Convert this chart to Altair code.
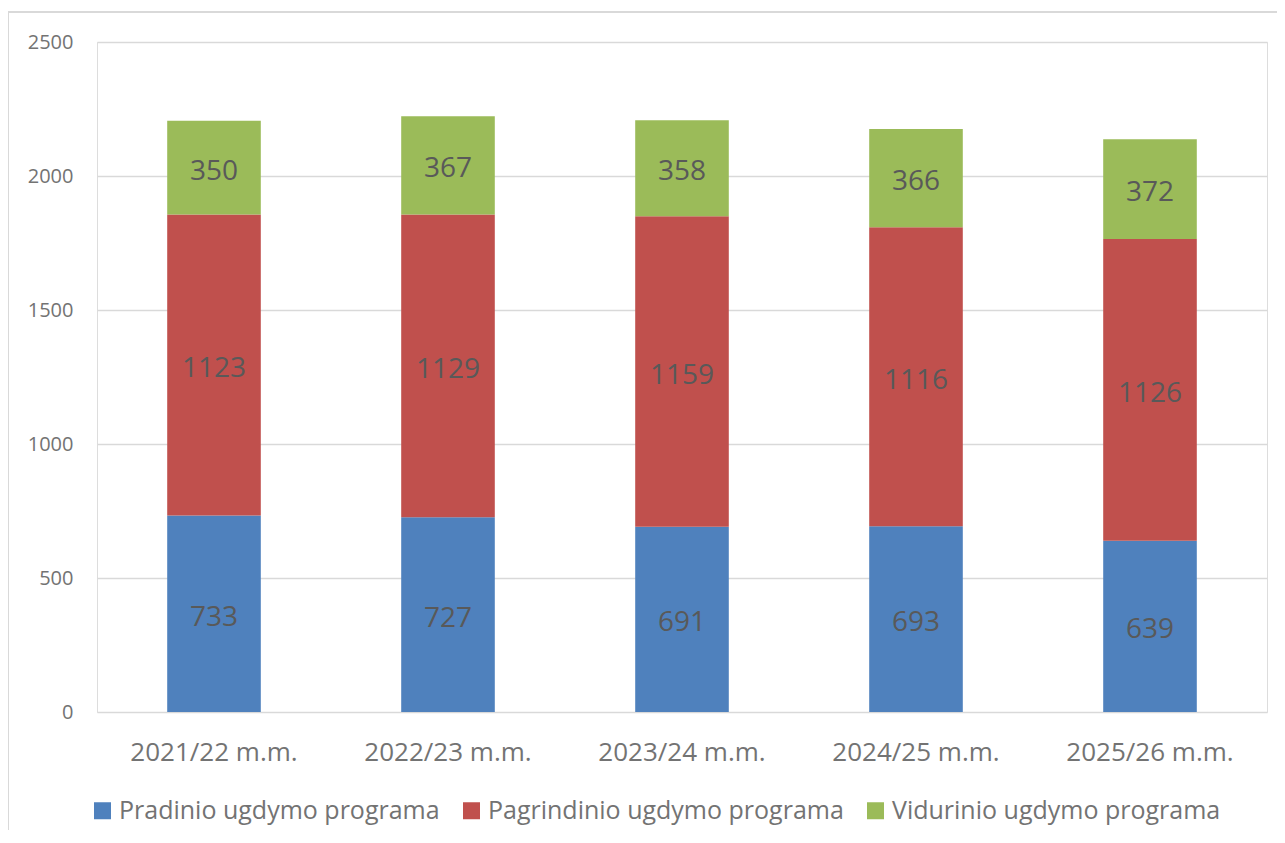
import altair as alt
import pandas as pd

years = ["2021/22 m.m.", "2022/23 m.m.", "2023/24 m.m.", "2024/25 m.m.", "2025/26 m.m."]
series = ["Pradinio ugdymo programa", "Pagrindinio ugdymo programa", "Vidurinio ugdymo programa"]
pradinio = [733, 727, 691, 693, 639]
pagrindinio = [1123, 1129, 1159, 1116, 1126]
vidurinio = [350, 367, 358, 366, 372]
colors = ["#4F81BD", "#C0504D", "#9BBB59"]

rows = []
for i, y in enumerate(years):
    for k, (s, vals) in enumerate(zip(series, [pradinio, pagrindinio, vidurinio])):
        rows.append({"year": y, "series": s, "value": vals[i], "order": k})
df = pd.DataFrame(rows)

FONT = "Open Sans"
GRAY = "#595959"
AXGRAY = "#737373"
W, H = 1170, 670

base = alt.Chart(df).transform_stack(
    stack="value", groupby=["year"], as_=["y0", "y1"],
    sort=[alt.SortField("order", order="ascending")]
).transform_calculate(mid="(datum.y0 + datum.y1) / 2")

x = alt.X("year:N", sort=years,
          scale=alt.Scale(paddingInner=0.6, paddingOuter=0.3),
          axis=alt.Axis(title=None, labelAngle=0, domain=False, ticks=False,
                        labelPadding=27, labelFontSize=26, labelColor=AXGRAY,
                        labelFont=FONT))

bars = base.mark_bar().encode(
    x=x,
    y=alt.Y("y0:Q", scale=alt.Scale(domain=[0, 2500], nice=False),
            axis=alt.Axis(title=None, values=[0, 500, 1000, 1500, 2000, 2500],
                          format="d", domain=False, ticks=False, labelPadding=24,
                          labelFontSize=20, labelColor=AXGRAY, labelFont=FONT,
                          gridColor="#D9D9D9", gridWidth=1.5)),
    y2="y1:Q",
    color=alt.Color("series:N", sort=series,
                    scale=alt.Scale(domain=series, range=colors),
                    legend=alt.Legend(title=None, orient="none", direction="horizontal",
                                      legendX=-7, legendY=756,
                                      symbolType="square", symbolSize=289,
                                      symbolStrokeWidth=0, labelFontSize=25,
                                      labelColor=AXGRAY, labelFont=FONT,
                                      columnPadding=19, labelOffset=4,
                                      labelLimit=500)),
)

labels = base.mark_text(fontSize=28, color=GRAY, font=FONT, baseline="middle", dy=4).encode(
    x=alt.X("year:N", sort=years),
    y=alt.Y("mid:Q"),
    text=alt.Text("value:Q"),
)

border = alt.Chart(df).mark_rect(fill=None, stroke="#D9D9D9", strokeWidth=1.5, clip=False).encode(
    x=alt.value(-89), x2=alt.value(W + 60), y=alt.value(-30), y2=alt.value(H + 200)
)

chart = alt.layer(bars, labels, border).properties(
    width=W, height=H,
    autosize=alt.AutoSizeParams(type="none"),
    padding={"left": 89, "top": 34, "right": 10, "bottom": 118},
).configure_view(stroke=None).configure(background="white")

chart.save("out.html", embed_options={"renderer": "svg", "actions": False})
